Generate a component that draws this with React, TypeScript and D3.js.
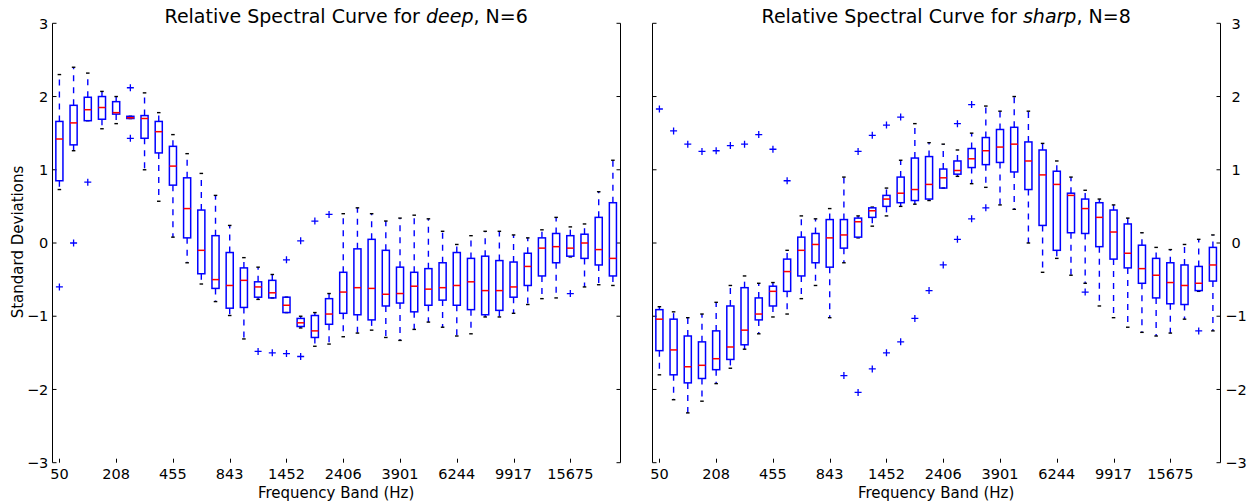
import React from "react";
import { scaleLinear, range } from "d3";

// frequency band tick labels, shown at every 4th band
const bandLabels = ["50", "208", "455", "843", "1452", "2406", "3901", "6244", "9917", "15675"];
const yTicks = [-3, -2, -1, 0, 1, 2, 3];

// "deep", N=6 : whisker ends, quartiles, medians per band (std devs)
const deepHigh = [2.30, 2.40, 2.32, 2.07, 2.00, 1.73, 2.05, 1.78, 1.48, 1.22, 0.95, 0.65, 0.24, -0.20, -0.33, -0.43, -0.74, -1.00, -0.95, -0.69,
  0.40, 0.48, 0.40, 0.30, 0.34, 0.38, 0.33, 0.16, -0.02, 0.10, 0.16, 0.16, 0.11, 0.07, 0.18, 0.35, 0.22, 0.26, 0.70, 1.13];
const deepQ3 = [1.66, 1.88, 1.99, 2.00, 1.93, 1.73, 1.74, 1.66, 1.32, 0.89, 0.45, 0.10, -0.13, -0.34, -0.53, -0.51, -0.74, -1.03, -0.99, -0.76,
  -0.40, -0.08, 0.05, -0.10, -0.33, -0.40, -0.35, -0.27, -0.13, -0.21, -0.18, -0.24, -0.26, -0.14, 0.07, 0.13, 0.10, 0.12, 0.35, 0.55];
const deepMedian = [1.42, 1.64, 1.82, 1.85, 1.78, 1.71, 1.70, 1.52, 1.05, 0.47, -0.10, -0.50, -0.58, -0.51, -0.60, -0.68, -0.85, -1.09, -1.20, -0.97,
  -0.67, -0.61, -0.62, -0.70, -0.69, -0.59, -0.63, -0.61, -0.58, -0.53, -0.65, -0.65, -0.60, -0.32, -0.07, -0.05, -0.07, 0.00, -0.09, -0.21];
const deepQ1 = [0.85, 1.34, 1.67, 1.69, 1.76, 1.70, 1.43, 1.23, 0.79, 0.07, -0.42, -0.62, -0.89, -0.88, -0.74, -0.75, -0.95, -1.14, -1.29, -1.11,
  -0.96, -0.98, -1.05, -0.86, -0.82, -0.94, -0.85, -0.78, -0.85, -0.91, -0.98, -0.92, -0.74, -0.58, -0.45, -0.27, -0.18, -0.21, -0.30, -0.45];
const deepLow = [0.73, 1.26, 1.67, 1.56, 1.63, 1.70, 1.00, 0.57, 0.08, -0.27, -0.56, -0.80, -0.99, -1.31, -0.77, -0.75, -0.95, -1.16, -1.41, -1.38,
  -1.28, -1.23, -1.19, -1.29, -1.33, -1.18, -1.08, -1.15, -1.27, -1.24, -1.01, -1.01, -0.96, -0.84, -0.76, -0.75, -0.19, -0.60, -0.57, -0.58];
// [band, value]
const deepOutliers = [[1, -0.60], [2, 0.00], [3, 0.83], [6, 2.12], [6, 1.43], [15, -1.48], [16, -1.50], [17, -0.23], [17, -1.51],
  [18, 0.03], [18, -1.55], [19, 0.30], [20, 0.39], [37, -0.69]];

// "sharp", N=8
const sharpHigh = [-0.87, -0.94, -1.02, -0.97, -0.81, -0.58, -0.45, -0.55, -0.54, -0.10, 0.37, 0.33, 0.47, 0.90, 0.37, 0.49, 0.75, 1.13, 1.63, 1.37,
  1.35, 1.27, 1.50, 1.87, 1.80, 2.00, 1.80, 1.36, 1.12, 0.90, 0.72, 0.60, 0.52, 0.34, 0.14, -0.06, -0.09, -0.02, 0.05, 0.11];
const sharpQ3 = [-0.91, -1.04, -1.27, -1.35, -1.20, -0.86, -0.61, -0.75, -0.59, -0.22, 0.08, 0.13, 0.32, 0.32, 0.34, 0.48, 0.65, 0.90, 1.16, 1.18,
  1.01, 1.12, 1.29, 1.44, 1.55, 1.58, 1.38, 1.27, 0.98, 0.68, 0.60, 0.55, 0.45, 0.26, -0.03, -0.21, -0.27, -0.30, -0.32, -0.06];
const sharpMedian = [-1.04, -1.46, -1.69, -1.67, -1.58, -1.42, -1.19, -0.97, -0.66, -0.39, -0.10, -0.02, 0.07, 0.11, 0.29, 0.44, 0.60, 0.68, 0.73, 0.80,
  0.89, 0.99, 1.15, 1.26, 1.31, 1.35, 1.12, 0.93, 0.80, 0.65, 0.47, 0.35, 0.15, -0.14, -0.35, -0.44, -0.54, -0.58, -0.55, -0.30];
const sharpQ1 = [-1.47, -1.80, -1.91, -1.85, -1.73, -1.59, -1.39, -1.05, -0.86, -0.66, -0.45, -0.27, -0.33, -0.07, 0.08, 0.35, 0.50, 0.55, 0.58, 0.60,
  0.75, 0.94, 1.03, 1.07, 1.10, 0.97, 0.73, 0.24, -0.10, 0.14, 0.13, -0.05, -0.22, -0.34, -0.55, -0.75, -0.83, -0.84, -0.65, -0.52];
const sharpLow = [-1.80, -2.14, -2.32, -2.16, -1.92, -1.71, -1.45, -1.24, -1.01, -0.97, -0.76, -0.58, -1.02, -0.27, 0.07, 0.23, 0.37, 0.50, 0.53, 0.58,
  0.75, 0.91, 0.81, 0.76, 0.52, 0.46, 0.00, -0.40, -0.21, -0.44, -0.55, -0.86, -1.02, -1.15, -1.22, -1.27, -1.23, -1.04, -0.66, -1.20];
const sharpOutliers = [[1, 1.83], [2, 1.53], [3, 1.35], [4, 1.25], [5, 1.26], [6, 1.33], [7, 1.35], [8, 1.48], [9, 1.28], [10, 0.85],
  [14, -1.81], [15, 1.25], [15, -2.04], [16, 1.47], [16, -1.72], [17, 1.61], [17, -1.50], [18, 1.72], [18, -1.35], [19, -1.03],
  [20, -0.65], [21, -0.30], [22, 1.63], [22, 0.05], [23, 1.89], [23, 0.33], [24, 0.48], [31, -0.67], [39, -1.20]];

const tickFont = "DejaVu Sans, sans-serif";
const top = 23.3, bottom = 462.7;

function Panel({ x0, x1, word, n, high, q3, median, q1, low, outliers, labelRight }) {
  const count = median.length;
  const x = scaleLinear().domain([0.5, count + 0.5]).range([x0, x1]);
  const y = scaleLinear().domain([-3, 3]).range([bottom, top]);
  const bw = x(1.25) - x(1);   // half box width
  const cw = x(1.125) - x(1);  // half cap width
  const bands = range(1, count + 1);
  const tickPos = bands.filter((b) => (b - 1) % 4 === 0);
  const mid = (x0 + x1) / 2;

  return (
    <g>
      <text x={mid + 10} y={23} textAnchor="middle" fontFamily={tickFont} fontSize={19}>
        Relative Spectral Curve for <tspan fontStyle="italic">{word}</tspan>, N={n}
      </text>

      {/* spines */}
      <line x1={Math.round(x0) + 0.5} x2={Math.round(x0) + 0.5} y1={top} y2={bottom} stroke="#000" strokeWidth={1} />
      <line x1={Math.round(x1) + 0.5} x2={Math.round(x1) + 0.5} y1={top} y2={bottom} stroke="#000" strokeWidth={1} />

      {yTicks.map((t) => (
        <g key={t}>
          <line x1={Math.round(x0) + 0.5} x2={Math.round(x0) + 4.5} y1={y(t)} y2={y(t)} stroke="#000" />
          <line x1={Math.round(x1) + 0.5} x2={Math.round(x1) - 3.5} y1={y(t)} y2={y(t)} stroke="#000" />
          {labelRight ? (
            <text x={x1 + 16} y={y(t)} dy="0.36em" textAnchor="middle" fontFamily={tickFont} fontSize={14.5}>
              {t < 0 ? "\u2212" + Math.abs(t) : t}
            </text>
          ) : (
            <text x={x0 - 4} y={y(t)} dy="0.36em" textAnchor="end" fontFamily={tickFont} fontSize={14.5}>
              {t < 0 ? "\u2212" + Math.abs(t) : t}
            </text>
          )}
        </g>
      ))}

      {tickPos.map((b, i) => (
        <g key={b}>
          <line x1={Math.round(x(b)) + 0.5} x2={Math.round(x(b)) + 0.5} y1={bottom} y2={bottom - 4} stroke="#000" />
          <text x={x(b)} y={479} textAnchor="middle" fontFamily={tickFont} fontSize={14.5}>{bandLabels[i]}</text>
        </g>
      ))}
      <text x={mid} y={498} textAnchor="middle" fontFamily={tickFont} fontSize={15}>Frequency Band (Hz)</text>

      {/* whiskers */}
      {bands.map((b, i) => (
        <g key={"w" + b} stroke="#0000ff" strokeWidth={1.4} strokeDasharray="6,6" fill="none">
          <line x1={x(b)} x2={x(b)} y1={y(q3[i])} y2={y(high[i])} />
          <line x1={x(b)} x2={x(b)} y1={y(q1[i])} y2={y(low[i])} />
        </g>
      ))}
      {/* caps */}
      {bands.map((b, i) => (
        <g key={"c" + b} stroke="#000" strokeWidth={1.4}>
          <line x1={x(b) - cw} x2={x(b) + cw} y1={y(high[i])} y2={y(high[i])} />
          <line x1={x(b) - cw} x2={x(b) + cw} y1={y(low[i])} y2={y(low[i])} />
        </g>
      ))}
      {/* boxes + medians */}
      {bands.map((b, i) => (
        <g key={"b" + b}>
          <rect x={x(b) - bw} width={2 * bw} y={y(q3[i])} height={Math.max(y(q1[i]) - y(q3[i]), 0.5)}
            fill="none" stroke="#0000ff" strokeWidth={1.5} />
          <line x1={x(b) - bw} x2={x(b) + bw} y1={y(median[i])} y2={y(median[i])} stroke="#ff0000" strokeWidth={1.5} />
        </g>
      ))}
      {/* fliers */}
      {outliers.map(([b, v], k) => (
        <path key={"o" + k}
          d={`M${x(b) - 3.5},${y(v)}H${x(b) + 3.5}M${x(b)},${y(v) - 3.5}V${y(v) + 3.5}`}
          stroke="#0000ff" strokeWidth={1.3} fill="none" />
      ))}
    </g>
  );
}

export default function App() {
  return (
    <svg width={1255} height={504} style={{ position: "absolute", left: 0, top: 0, background: "#fff" }}>
      <rect width={1255} height={504} fill="#fff" />
      <text transform="translate(23,242) rotate(-90)" textAnchor="middle" fontFamily={tickFont} fontSize={15}>
        Standard Deviations
      </text>
      <Panel x0={52.3} x1={620} word="deep" n={6} high={deepHigh} q3={deepQ3} median={deepMedian}
        q1={deepQ1} low={deepLow} outliers={deepOutliers} labelRight={false} />
      <Panel x0={652.3} x1={1220} word="sharp" n={8} high={sharpHigh} q3={sharpQ3} median={sharpMedian}
        q1={sharpQ1} low={sharpLow} outliers={sharpOutliers} labelRight={true} />
    </svg>
  );
}
